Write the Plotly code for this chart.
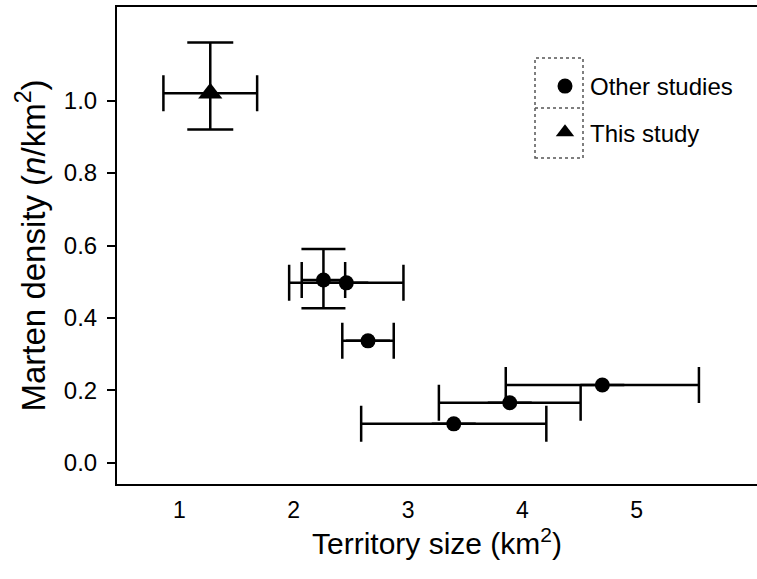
import plotly.graph_objects as go

# Other studies
other_x = [2.26, 2.46, 2.65, 4.70, 3.89, 3.40]
other_y = [0.505, 0.497, 0.337, 0.215, 0.166, 0.108]
other_xerr = [0.19, 0.50, 0.225, 0.845, 0.62, 0.81]
other_yerr_plus = [0.085, 0, 0, 0, 0, 0]
other_yerr_minus = [0.078, 0, 0, 0, 0, 0]

# This study
this_x = [1.27]
this_y = [1.02]
this_xerr = [0.41]
this_yerr_plus = [0.14]
this_yerr_minus = [0.10]

y_ticks = [0.0, 0.2, 0.4, 0.6, 0.8, 1.0]
y_ticklabels = ["0.0", "0.2", "0.4", "0.6", "0.8", "1.0"]
x_ticks = [1, 2, 3, 4, 5]
x_ticklabels = ["1", "2", "3", "4", "5"]

FONT = "Liberation Sans, Arial, Helvetica, sans-serif"

fig = go.Figure()
fig.add_trace(go.Scatter(
    x=other_x, y=other_y, mode="markers", name="Other studies",
    legendgroup="a",
    marker=dict(symbol="circle", size=15, color="black"),
    error_x=dict(type="data", array=other_xerr, color="black", thickness=2.5, width=18),
    error_y=dict(type="data", symmetric=False, array=other_yerr_plus,
                 arrayminus=other_yerr_minus, color="black", thickness=2.5, width=22),
))
fig.add_trace(go.Scatter(
    x=this_x, y=this_y, mode="markers", name="This study",
    legendgroup="b",
    marker=dict(symbol="triangle-up", size=21, color="black"),
    error_x=dict(type="data", array=this_xerr, color="black", thickness=2.5, width=18),
    error_y=dict(type="data", symmetric=False, array=this_yerr_plus,
                 arrayminus=this_yerr_minus, color="black", thickness=2.5, width=23),
))

W, H = 757, 579
L, R, T, B = 117, 0, 7, 95

def px_x(p):
    return (p - L) / (W - L - R)

def px_y(p):
    return (H - B - p) / (H - T - B)

fig.update_layout(
    width=W, height=H,
    margin=dict(l=L, r=R, t=T, b=B, pad=0),
    plot_bgcolor="white", paper_bgcolor="white",
    font=dict(family=FONT, color="black"),
    showlegend=True,
    legend=dict(
        x=px_x(540), y=px_y(64), xanchor="left", yanchor="top",
        bgcolor="rgba(0,0,0,0)", borderwidth=0,
        font=dict(size=24, family=FONT, color="black"),
        tracegroupgap=12, itemwidth=40,
    ),
    xaxis=dict(
        range=[0.454, 6.053], tickmode="array", tickvals=x_ticks, ticktext=x_ticklabels,
        showgrid=False, zeroline=False, showline=True, linecolor="black", linewidth=2,
        mirror=True, ticks="", ticklabelstandoff=4,
        tickfont=dict(size=23, family=FONT, color="black"),
        title=dict(text="Territory size (km<sup>2</sup>)", standoff=5,
                   font=dict(size=30, family=FONT, color="black")),
        automargin=False,
    ),
    yaxis=dict(
        range=[-0.058, 1.258], tickmode="array", tickvals=y_ticks, ticktext=y_ticklabels,
        showgrid=False, zeroline=False, showline=True, linecolor="black", linewidth=2,
        ticks="outside", ticklen=8, tickwidth=2, tickcolor="black", ticklabelstandoff=5,
        tickfont=dict(size=24, family=FONT, color="black"),
        title=dict(text="Marten density (<i>n</i>/km<sup>2</sup>)", standoff=8,
                   font=dict(size=33, family=FONT, color="black")),
        automargin=False,
    ),
    shapes=[
        dict(type="rect", xref="paper", yref="paper",
             x0=px_x(535), x1=px_x(583), y0=px_y(158), y1=px_y(58),
             line=dict(color="#555555", width=1.5, dash="dot")),
        dict(type="line", xref="paper", yref="paper",
             x0=px_x(535), x1=px_x(583), y0=px_y(108), y1=px_y(108),
             line=dict(color="#555555", width=1.5, dash="dot")),
    ],
)

fig.write_html("out.html")
